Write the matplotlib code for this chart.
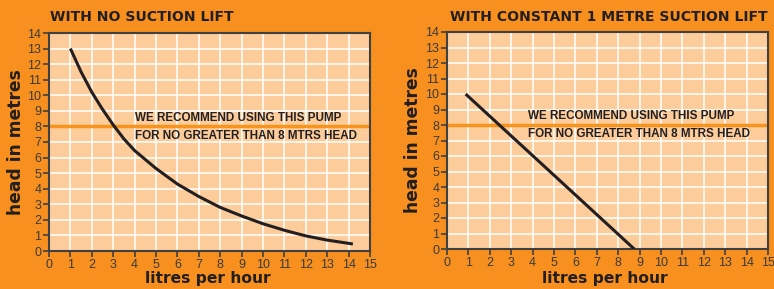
import matplotlib
matplotlib.use("Agg")
import matplotlib.pyplot as plt

# Data
flow_left = [1, 1.5, 2, 2.5, 3, 3.5, 4, 5, 6, 7, 8, 9, 10, 11, 12, 13, 14.2]
head_left = [13, 11.5, 10.2, 9.1, 8.1, 7.2, 6.45, 5.3, 4.3, 3.5, 2.8, 2.25, 1.75, 1.33, 0.97, 0.7, 0.45]
flow_right = [0.87, 8.75]
head_right = [10.0, 0.0]
limit_head = 8
titles = ["WITH NO SUCTION LIFT", "WITH CONSTANT 1 METRE SUCTION LIFT"]
note1 = "WE RECOMMEND USING THIS PUMP"
note2 = "FOR NO GREATER THAN 8 MTRS HEAD"
xlabel = "litres per hour"
ylabel = "head in metres"
xticks = list(range(0, 16))
yticks = list(range(0, 15))

BG = "#F7901E"
FACE = "#FDCC9B"
DARK = "#231F20"
LINE_OR = "#F7941D"
TICKC = "#3A3A3A"

fig = plt.figure(figsize=(7.74, 2.89), dpi=100, facecolor=BG)

rects = [
    [49/774, 1-251/289, (370-49)/774, (251-33)/289],
    [447/774, 1-249/289, (768-447)/774, (249-32)/289],
]
note_x = [4.0, 3.77]
title_x = [50/774, 450/774]
ylab_x = [16/774, 413/774]
xlab_cx = [208/774, 605/774]

for i in range(2):
    ax = fig.add_axes(rects[i])
    ax.set_facecolor(FACE)
    ax.set_xlim(0, 15)
    ax.set_ylim(0, 14)
    ax.set_xticks(xticks)
    ax.set_yticks(yticks)
    ax.grid(True, color="white", lw=1.1)
    ax.set_axisbelow(True)
    for s in ax.spines.values():
        s.set_color("#404040")
        s.set_linewidth(1.5)
    ax.tick_params(direction="out", length=4, width=1.2, color="#404040",
                   labelcolor=TICKC, labelsize=9, pad=1.5)
    for lab in ax.get_xticklabels() + ax.get_yticklabels():
        lab.set_fontfamily("Liberation Sans")
    ax.axhline(limit_head, color=LINE_OR, lw=2.5, zorder=2)
    if i == 0:
        ax.plot(flow_left, head_left, color=DARK, lw=2.2, zorder=3,
                solid_capstyle="butt", solid_joinstyle="round")
    else:
        ax.plot(flow_right, head_right, color=DARK, lw=2.2, zorder=3, solid_capstyle="butt")
    ax.text(note_x[i], 8.56, note1, fontsize=8.4, fontweight="bold", color=DARK,
            family="Liberation Sans", va="center", ha="left")
    ax.text(note_x[i], 7.39, note2, fontsize=8.4, fontweight="bold", color=DARK,
            family="Liberation Sans", va="center", ha="left")
    fig.text(xlab_cx[i], 1-279/289, xlabel, fontsize=11.2, fontweight="heavy",
             color=DARK, family="DejaVu Sans", va="center", ha="center")
    fig.text(title_x[i], 1-17/289, titles[i], fontsize=10.1, fontweight="heavy",
             color=DARK, family="DejaVu Sans", va="center", ha="left")
    fig.text(ylab_x[i], (rects[i][1] + rects[i][3]/2), ylabel, rotation=90,
             fontsize=12.3, fontweight="heavy", color=DARK, family="DejaVu Sans",
             va="center", ha="center")

fig.savefig("out.png", dpi=100, facecolor=BG)
